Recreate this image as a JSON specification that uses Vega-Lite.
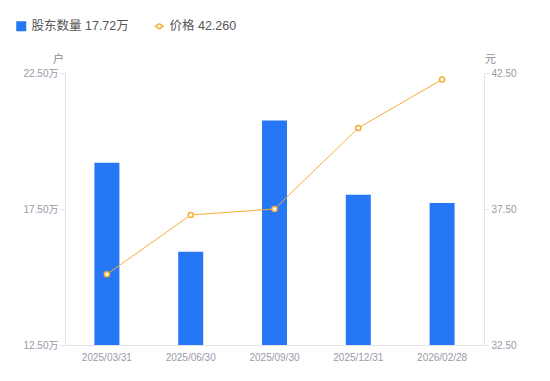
{
  "$schema": "https://vega.github.io/schema/vega-lite/v6.json",
  "width": 419,
  "height": 272,
  "autosize": {"type": "none"},
  "padding": {"left": 65, "top": 73, "right": 66, "bottom": 36},
  "data": {
    "values": [
      {"date": "2025/03/31", "holders": 19.2, "price": 35.1},
      {"date": "2025/06/30", "holders": 15.93, "price": 37.28},
      {"date": "2025/09/30", "holders": 20.75, "price": 37.5},
      {"date": "2025/12/31", "holders": 18.02, "price": 40.48},
      {"date": "2026/02/28", "holders": 17.72, "price": 42.26}
    ]
  },
  "config": {
    "view": {"stroke": null},
    "font": "Liberation Sans, Noto Sans CJK SC, sans-serif",
    "axis": {
      "grid": false,
      "domainColor": "#e3e3e8",
      "tickColor": "#e3e3e8",
      "labelColor": "#9a9aa8",
      "labelFontSize": 10,
      "titleColor": "#8a8a96",
      "titleFontSize": 11,
      "titleFontWeight": "normal"
    },
    "legend": {
      "labelFontSize": 12.5,
      "labelColor": "#333333",
      "symbolSize": 100
    }
  },
  "encoding": {
    "x": {
      "field": "date",
      "type": "ordinal",
      "sort": null,
      "scale": {"paddingInner": 0, "paddingOuter": 0},
      "axis": {"title": null, "labelAngle": 0, "ticks": false, "labelPadding": 7}
    }
  },
  "layer": [
    {
      "mark": {"type": "bar", "size": 25, "clip": true},
      "encoding": {
        "y": {
          "field": "holders",
          "type": "quantitative",
          "scale": {"domain": [12.5, 22.5], "nice": false, "zero": false},
          "axis": {
            "orient": "left",
            "values": [12.5, 17.5, 22.5],
            "labelExpr": "format(datum.value, '.2f') + '万'",
            "title": "户",
            "titleAngle": 0,
            "titleAnchor": "end",
            "titleAlign": "center",
            "titleBaseline": "bottom",
            "titleX": -7,
            "titleY": -9,
            "tickSize": 5,
            "labelPadding": 2
          }
        },
        "fill": {
          "datum": "股东数量",
          "type": "nominal",
          "scale": {"range": ["#2577F5"]},
          "legend": {
            "title": null,
            "orient": "none",
            "legendX": -50,
            "legendY": -53,
            "symbolType": "square",
            "symbolSize": 100,
            "labelColor": "#555555",
            "labelExpr": "datum.label + '  17.72万'"
          }
        }
      }
    },
    {
      "mark": {
        "type": "line",
        "strokeWidth": 1,
        "point": {"filled": false, "fill": "white", "stroke": "#F6AD35", "strokeWidth": 1.5, "size": 26}
      },
      "encoding": {
        "y": {
          "field": "price",
          "type": "quantitative",
          "scale": {"domain": [32.5, 42.5], "nice": false, "zero": false},
          "axis": {
            "orient": "right",
            "values": [32.5, 37.5, 42.5],
            "format": ".2f",
            "title": "元",
            "titleAngle": 0,
            "titleAnchor": "end",
            "titleAlign": "center",
            "titleBaseline": "bottom",
            "titleX": 6,
            "titleY": -9,
            "tickSize": 5,
            "labelPadding": 2
          }
        },
        "stroke": {
          "datum": "价格",
          "type": "nominal",
          "scale": {"range": ["#F6AD35"]},
          "legend": {
            "title": null,
            "orient": "none",
            "legendX": 88,
            "legendY": -53,
            "symbolType": "M -1 0 L -0.5 0 M 0.5 0 L 1 0 M 0.5 0 A 0.5 0.5 0 1 1 -0.5 0 A 0.5 0.5 0 1 1 0.5 0 Z",
            "symbolFillColor": "white",
            "symbolStrokeWidth": 1.5,
            "symbolSize": 90,
            "labelColor": "#555555",
            "labelExpr": "datum.label + '  42.260'"
          }
        }
      }
    }
  ],
  "resolve": {"scale": {"y": "independent", "fill": "independent", "stroke": "independent"}}
}
